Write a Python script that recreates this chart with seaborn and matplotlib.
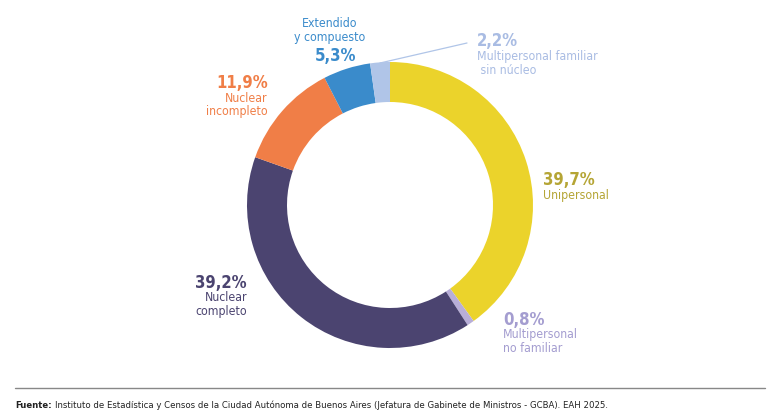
import matplotlib
matplotlib.use("Agg")
import matplotlib.pyplot as plt
import seaborn as sns

categorias = ["Unipersonal", "Multipersonal\nno familiar", "Nuclear\ncompleto",
              "Nuclear\nincompleto", "Extendido\ny compuesto",
              "Multipersonal familiar\n sin núcleo"]
valores = [39.7, 0.8, 39.2, 11.9, 5.3, 2.2]
colores = ["#EBD32B", "#B8AED8", "#4B4470", "#F07E47", "#3A8BCB", "#B0C5E8"]
colores_texto = ["#B5A535", "#A49DD0", "#4B4470", "#F07E47", "#3A8BCB", "#A9BCE3"]

sns.set_theme(style="white")
plt.rcParams["font.family"] = ["DejaVu Sans"]
plt.rcParams["font.stretch"] = "condensed"

fig = plt.figure(figsize=(7.8, 4.18), dpi=100)
ax = fig.add_axes([0, 0, 1, 1])

# eje y invertido: el sentido horario visual es antihorario en datos
ax.pie(valores, colors=colores, startangle=-90, counterclock=True,
       center=(390, 205), radius=143, frame=True,
       wedgeprops=dict(width=40, edgecolor="none"))
ax.set_xlim(0, 780)
ax.set_ylim(418, 0)
ax.set_aspect("equal")
ax.axis("off")

def pct(v):
    return f"{v:.1f}".replace(".", ",") + "%"

# posiciones de las etiquetas (x, y pct, y nombre, alineación)
etiquetas = [
    (543, 180, 189, "left"),
    (503, 320, 328, "left"),
    (247, 283, 291, "right"),
    (268, 83, 92, "right"),
    (356, 56, 17, "right"),
    (477, 41, 50, "left"),
]

for i, (x, yp, yn, ha) in enumerate(etiquetas):
    c = colores_texto[i]
    ax.text(x, yp, pct(valores[i]), color=c, fontsize=12, fontweight="bold",
            ha=ha, va="center")
    if i == 4:
        ax.text(330, yn, categorias[i], color=c, fontsize=8.8, ha="center",
                va="top", linespacing=1.05)
    else:
        ax.text(x, yn, categorias[i], color=c, fontsize=8.8, ha=ha, va="top",
                linespacing=1.05)

ax.plot([380, 467], [63, 43], color="#B0C5E8", lw=0.9)

ax.plot([15, 765], [388, 388], color="#888888", lw=1)
t1 = ax.text(15, 405, "Fuente:", fontsize=6.8, fontweight="bold", ha="left",
             va="center", color="#222222")
r = fig.canvas.get_renderer()
x2 = 15 + t1.get_window_extent(r).width + 3
ax.text(x2, 405, "Instituto de Estadística y Censos de la Ciudad Autónoma de Buenos Aires "
        "(Jefatura de Gabinete de Ministros - GCBA). EAH 2025.",
        fontsize=6.8, ha="left", va="center", color="#222222")

fig.savefig("out.png", dpi=100)
